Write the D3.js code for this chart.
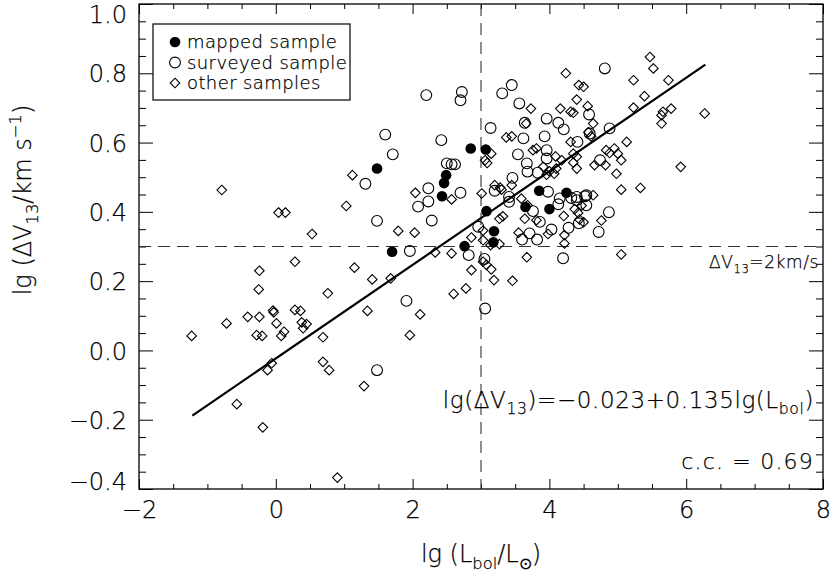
<!DOCTYPE html>
<html>
<head>
<meta charset="utf-8">
<script src="https://cdn.jsdelivr.net/npm/d3@7"></script>
<style>
  body { margin: 0; background: #fff; }
  svg text { font-family: "DejaVu Sans", sans-serif; font-weight: 200; fill: #000; stroke: #000; stroke-width: 0.25px; }
</style>
</head>
<body>
<script>
'use strict';

// lg(Lbol) , lg(dV13)
const mapped = [
  [1.48, 0.525], [1.70, 0.285], [2.85, 0.583], [3.07, 0.580], [2.49, 0.506],
  [2.46, 0.483], [2.43, 0.445], [3.08, 0.402], [3.19, 0.344], [3.18, 0.312],
  [2.76, 0.301], [3.65, 0.414], [3.85, 0.461], [4.00, 0.408], [4.25, 0.455]
];

const surveyed = [
  [2.20, 0.737], [1.60, 0.623], [1.71, 0.566], [1.31, 0.481], [2.23, 0.468],
  [2.72, 0.746], [2.70, 0.722], [3.31, 0.742], [3.45, 0.766], [3.56, 0.713], [4.81, 0.814],
  [2.42, 0.607], [3.14, 0.642], [3.64, 0.657], [3.96, 0.669], [4.13, 0.657], [4.21, 0.638],
  [4.58, 0.681], [4.88, 0.641], [3.62, 0.612], [3.93, 0.618], [3.54, 0.566], [3.96, 0.578],
  [3.96, 0.554], [3.67, 0.540], [3.68, 0.516], [3.83, 0.513], [3.46, 0.498],
  [4.41, 0.602], [4.59, 0.626], [4.74, 0.549],
  [2.50, 0.540], [2.57, 0.537], [2.62, 0.537],
  [2.70, 0.455], [3.20, 0.461], [3.41, 0.443], [4.54, 0.448], [4.40, 0.443],
  [3.41, 0.429], [2.96, 0.357], [2.82, 0.275], [3.05, 0.264], [3.06, 0.121],
  [3.76, 0.402], [3.60, 0.320], [3.71, 0.338], [3.82, 0.320], [3.86, 0.371], [4.03, 0.349],
  [3.98, 0.458], [4.15, 0.439], [4.13, 0.422], [4.32, 0.440], [4.52, 0.445], [4.54, 0.419],
  [4.40, 0.434], [4.28, 0.354], [4.43, 0.367], [4.87, 0.399], [4.72, 0.342], [4.20, 0.266],
  [2.28, 0.375], [1.48, 0.374], [1.96, 0.287], [2.08, 0.415], [2.23, 0.430],
  [1.91, 0.143], [1.48, -0.057]
];

const others = [
  [-0.79, 0.463], [1.12, 0.506], [2.04, 0.455],
  [0.04, 0.398], [0.14, 0.398], [1.03, 0.417], [0.53, 0.336], [1.79, 0.345], [2.03, 0.340],
  [0.28, 0.256], [-0.24, 0.230], [1.15, 0.239], [1.41, 0.205], [1.68, 0.208], [-0.25, 0.176],
  [0.76, 0.165], [-0.72, 0.078], [-0.41, 0.097], [-0.24, 0.097], [-0.04, 0.115], [-0.03, 0.110],
  [0.01, 0.078], [0.28, 0.117], [0.36, 0.114], [0.38, 0.081], [0.45, 0.076], [1.34, 0.114],
  [2.11, 0.104], [-1.23, 0.042], [-0.28, 0.044], [-0.20, 0.042], [0.08, 0.042], [0.12, 0.054],
  [0.40, 0.064], [0.69, 0.038], [1.96, 0.044], [0.69, -0.033], [0.78, -0.057], [-0.06, -0.037],
  [-0.12, -0.057], [1.29, -0.103], [-0.57, -0.155], [-0.19, -0.222], [0.90, -0.367],
  [5.47, 0.847], [5.52, 0.814], [4.24, 0.800], [5.23, 0.780], [5.74, 0.780], [4.43, 0.766],
  [4.50, 0.761], [5.39, 0.734], [4.40, 0.724], [3.73, 0.698], [4.16, 0.698], [4.31, 0.689],
  [4.35, 0.686], [4.56, 0.705], [5.23, 0.701], [5.64, 0.679], [5.66, 0.689], [5.78, 0.698],
  [5.64, 0.655], [6.27, 0.684], [4.64, 0.655],
  [3.37, 0.615], [3.45, 0.618], [3.66, 0.655], [4.57, 0.630], [4.61, 0.618], [5.13, 0.602],
  [4.83, 0.578], [4.88, 0.570], [4.95, 0.583], [5.00, 0.568], [5.05, 0.549],
  [3.76, 0.578], [3.81, 0.583], [3.06, 0.549], [3.09, 0.541], [3.15, 0.568], [4.09, 0.560],
  [4.31, 0.602], [4.35, 0.568], [4.40, 0.559], [4.66, 0.535], [4.82, 0.535], [4.98, 0.510],
  [5.92, 0.530], [5.05, 0.464], [5.33, 0.469],
  [4.10, 0.525], [4.18, 0.549], [4.35, 0.542], [4.40, 0.525], [3.91, 0.530], [4.00, 0.517],
  [4.07, 0.510], [3.96, 0.507],
  [3.30, 0.464], [3.01, 0.453], [4.64, 0.448], [3.20, 0.477], [3.28, 0.470], [3.45, 0.477],
  [3.68, 0.419], [3.59, 0.438],
  [2.57, 0.436], [3.32, 0.387], [3.27, 0.380], [3.64, 0.380], [3.81, 0.376], [3.03, 0.318],
  [3.14, 0.304], [3.27, 0.307], [2.86, 0.326], [3.03, 0.346], [3.55, 0.340], [3.98, 0.336],
  [4.22, 0.333], [4.22, 0.309], [4.21, 0.388],
  [4.37, 0.408], [4.42, 0.397], [4.47, 0.418], [4.44, 0.378], [4.50, 0.370],
  [4.76, 0.375], [5.05, 0.277], [3.67, 0.269], [2.57, 0.280], [2.33, 0.283], [2.86, 0.232],
  [3.03, 0.256], [3.08, 0.247], [3.15, 0.234], [3.19, 0.203], [3.46, 0.201], [2.78, 0.179],
  [2.60, 0.163]
];

// least squares line lg(dV13) = -0.023 + 0.135 lg(Lbol), end points as drawn
const fitLine = [[-1.22, -0.188], [6.28, 0.825]];
const threshX = 3;      // vertical dashed line
const threshY = 0.3;    // dV13 = 2 km/s

const xTicks = [-2, 0, 2, 4, 6, 8];
const yTicks = [-0.4, -0.2, 0.0, 0.2, 0.4, 0.6, 0.8, 1.0];
const legendNames = ["mapped sample", "surveyed sample", "other samples"];

const W = 832, H = 577;
const pLeft = 139, pRight = 823, pTop = 4, pBottom = 489;

const svg = d3.select('body').append('svg')
  .attr('width', W)
  .attr('height', H);

const x = d3.scaleLinear().domain([-2, 8]).range([pLeft, pRight]);
const y = d3.scaleLinear().domain([-0.4, 1.0]).range([pBottom, pTop]);

// minor ticks
const xMinor = d3.range(-2, 8.01, 0.5).filter(v => Math.abs(v % 2) > 1e-6);
const yMinor = d3.range(-0.4, 1.001, 0.05).filter(v => Math.abs(Math.round(v * 100) % 20) > 1e-6);

function styleAxis(g) {
  g.select('.domain').remove();
  g.selectAll('line').attr('stroke', '#000').attr('stroke-width', 1);
}

// bottom
svg.append('g').attr('transform', `translate(0,${pBottom})`)
  .call(d3.axisBottom(x).tickValues(xTicks).tickSize(-10).tickPadding(12).tickFormat(d3.format('d')))
  .call(styleAxis)
  .selectAll('text').style('font-size', '24px');
svg.append('g').attr('transform', `translate(0,${pBottom})`)
  .call(d3.axisBottom(x).tickValues(xMinor).tickSize(-5).tickFormat(''))
  .call(styleAxis);
// top
svg.append('g').attr('transform', `translate(0,${pTop})`)
  .call(d3.axisTop(x).tickValues(xTicks).tickSize(-10).tickFormat(''))
  .call(styleAxis);
svg.append('g').attr('transform', `translate(0,${pTop})`)
  .call(d3.axisTop(x).tickValues(xMinor).tickSize(-5).tickFormat(''))
  .call(styleAxis);
// left
const yAx = svg.append('g').attr('transform', `translate(${pLeft},0)`)
  .call(d3.axisLeft(y).tickValues(yTicks).tickSize(-14).tickPadding(12).tickFormat(d3.format('.1f')))
  .call(styleAxis);
yAx.selectAll('text').style('font-size', '24px')
  .attr('dy', d => d === 1.0 ? '0.76em' : (d === -0.4 ? '0em' : '0.36em'));
svg.append('g').attr('transform', `translate(${pLeft},0)`)
  .call(d3.axisLeft(y).tickValues(yMinor).tickSize(-7).tickFormat(''))
  .call(styleAxis);
// right
svg.append('g').attr('transform', `translate(${pRight},0)`)
  .call(d3.axisRight(y).tickValues(yTicks).tickSize(-14).tickFormat(''))
  .call(styleAxis);
svg.append('g').attr('transform', `translate(${pRight},0)`)
  .call(d3.axisRight(y).tickValues(yMinor).tickSize(-7).tickFormat(''))
  .call(styleAxis);

// frame
svg.append('rect')
  .attr('x', pLeft).attr('y', pTop)
  .attr('width', pRight - pLeft).attr('height', pBottom - pTop)
  .attr('fill', 'none').attr('stroke', '#000').attr('stroke-width', 1.3);

// dashed reference lines
svg.append('line')
  .attr('x1', x(threshX)).attr('x2', x(threshX))
  .attr('y1', y(1.0)).attr('y2', y(-0.4))
  .attr('stroke', '#333').attr('stroke-width', 1.1).attr('stroke-dasharray', '12,7');
svg.append('line')
  .attr('x1', x(-2)).attr('x2', x(8))
  .attr('y1', y(threshY)).attr('y2', y(threshY))
  .attr('stroke', '#333').attr('stroke-width', 1.1).attr('stroke-dasharray', '12,7');

// symbols
function diamond(h) {
  return `M0,${-h}L${h},0L0,${h}L${-h},0Z`;
}

svg.append('g').selectAll('path')
  .data(others)
  .enter()
  .append('path')
  .attr('d', diamond(4.8))
  .attr('transform', d => `translate(${x(d[0])},${y(d[1])})`)
  .attr('fill', 'none').attr('stroke', '#000').attr('stroke-width', 1.1);

svg.append('g').selectAll('circle')
  .data(surveyed)
  .enter()
  .append('circle')
  .attr('cx', d => x(d[0])).attr('cy', d => y(d[1]))
  .attr('r', 5.4)
  .attr('fill', 'none').attr('stroke', '#000').attr('stroke-width', 1.1);

svg.append('g').selectAll('circle')
  .data(mapped)
  .enter()
  .append('circle')
  .attr('cx', d => x(d[0])).attr('cy', d => y(d[1]))
  .attr('r', 5.3)
  .attr('fill', '#000');

// fit line
svg.append('path')
  .datum(fitLine)
  .attr('d', d3.line().x(d => x(d[0])).y(d => y(d[1])))
  .attr('fill', 'none').attr('stroke', '#000').attr('stroke-width', 2.2);

// text with sub/superscripts: parts = [[str, 'n'|'sub'|'sup'], ...]
function rich(t, parts, size) {
  let off = 0;
  parts.forEach(p => {
    let target = 0, fs = size;
    if (p[1] === 'sub') { target = size * 0.28; fs = size * 0.68; }
    if (p[1] === 'sup') { target = -size * 0.42; fs = size * 0.68; }
    t.append('tspan')
      .attr('dy', target - off)
      .style('font-size', fs + 'px')
      .text(p[0]);
    off = target;
  });
}

// legend
const lg = svg.append('g');
lg.append('rect')
  .attr('x', 153).attr('y', 24).attr('width', 197).attr('height', 76)
  .attr('fill', '#fff').attr('stroke', '#000').attr('stroke-width', 1.2);
legendNames.forEach((name, i) => {
  const cy = 42 + i * 20.5;
  if (i === 0) {
    lg.append('circle').attr('cx', 175).attr('cy', cy).attr('r', 5.3).attr('fill', '#000');
  } else if (i === 1) {
    lg.append('circle').attr('cx', 175).attr('cy', cy).attr('r', 5.4)
      .attr('fill', 'none').attr('stroke', '#000').attr('stroke-width', 1.1);
  } else {
    lg.append('path').attr('d', diamond(4.8)).attr('transform', `translate(175,${cy})`)
      .attr('fill', 'none').attr('stroke', '#000').attr('stroke-width', 1.1);
  }
  lg.append('text')
    .attr('x', 187).attr('y', cy + 6)
    .style('font-size', '18px')
    .style('letter-spacing', '0.4px')
    .text(name);
});

// annotations
rich(svg.append('text').attr('x', 819).attr('y', 268).attr('text-anchor', 'end')
  .style('font-size', '17px').style('letter-spacing', '0.6px'),
  [['\u0394V', 'n'], ['13', 'sub'], ['=2km/s', 'n']], 17);

rich(svg.append('text').attr('x', 814).attr('y', 408).attr('text-anchor', 'end')
  .style('font-size', '23px').style('letter-spacing', '0.6px'),
  [['lg(\u0394V', 'n'], ['13', 'sub'], [')=\u22120.023+0.135lg(L', 'n'], ['bol', 'sub'], [')', 'n']], 23);

svg.append('text').attr('x', 814).attr('y', 469).attr('text-anchor', 'end')
  .style('font-size', '22px').style('letter-spacing', '1.2px')
  .text('c.c. = 0.69');

// axis titles
rich(svg.append('text').attr('x', x(3)).attr('y', 562).attr('text-anchor', 'middle')
  .style('font-size', '24px'),
  [['lg (L', 'n'], ['bol', 'sub'], ['/L', 'n'], ['\u2299', 'sub'], [')', 'n']], 24);

rich(svg.append('text').attr('transform', 'translate(31,200)rotate(-90)').attr('text-anchor', 'middle')
  .style('font-size', '24px'),
  [['lg (\u0394V', 'n'], ['13', 'sub'], ['/km s', 'n'], ['\u22121', 'sup'], [')', 'n']], 24);
</script>
</body>
</html>
